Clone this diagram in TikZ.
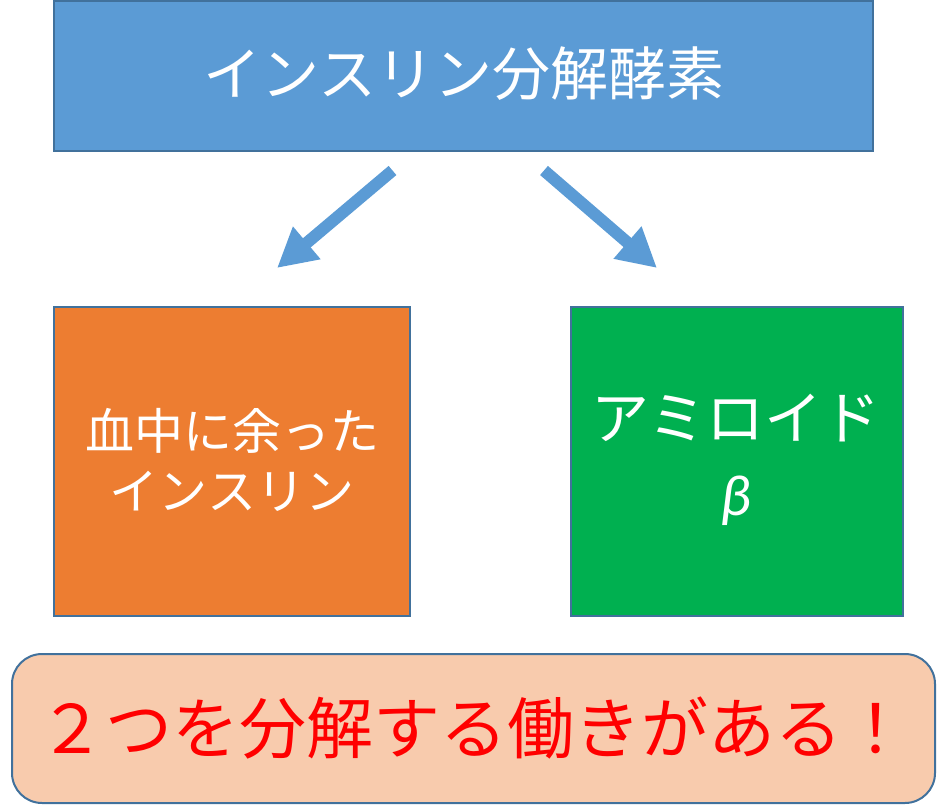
\documentclass[tikz,border=0pt]{standalone}
\usepackage{fontspec}
\newfontfamily\jp{Noto Sans CJK JP}
\newfontfamily\carl{Carlito}
\usetikzlibrary{arrows.meta}
\definecolor{bluefill}{HTML}{5B9BD5}
\definecolor{bordercol}{HTML}{41719C}
\definecolor{orangefill}{HTML}{ED7D31}
\definecolor{greenfill}{HTML}{00B050}
\definecolor{peachfill}{HTML}{F8CBAD}
\definecolor{redtext}{HTML}{FF0000}
\tikzset{
  boxstyle/.style={draw=bordercol, line width=2pt},
  bigarrow/.style={draw=bluefill, line width=12pt, line cap=butt,
    -{Triangle[length=39pt,width=40pt]}},
  whitetext/.style={text=white, align=center, font=\jp\fontsize{49}{60}\selectfont}
}
\begin{document}
\begin{tikzpicture}[x=1pt,y=-1pt]
\useasboundingbox (0,0) rectangle (947,810);
% top box
\draw[boxstyle, fill=bluefill] (54,1) rectangle (873,151);
\node[whitetext, font=\jp\fontsize{58}{60}\selectfont] (top) at (464,74) {インスリン分解酵素};
% orange box
\draw[boxstyle, fill=orangefill] (54,307) rectangle (410,616);
\node[whitetext] (orange) at (232,460) {血中に余った\\インスリン};
% green box
\draw[boxstyle, fill=greenfill] (571,307) rectangle (903,616);
\node[whitetext, font=\jp\fontsize{58}{76}\selectfont] (green) at (736,460) {アミロイド\\{\carl\itshape β}};
% bottom rounded box
\draw[boxstyle, rounded corners=30pt, fill=peachfill] (12,654) rectangle (935,803);
\node[text=redtext, font=\jp\fontsize{67}{70}\selectfont] (bottom) at (473.5,728) {２つを分解する働きがある！};
% arrows
\coordinate (la) at (392.5,170.5);
\coordinate (lb) at (277,268);
\coordinate (ra) at (544,170.5);
\coordinate (rb) at (657,268);
\draw[bigarrow] (la) -- (lb);
\draw[bigarrow] (ra) -- (rb);
\end{tikzpicture}
\end{document}
